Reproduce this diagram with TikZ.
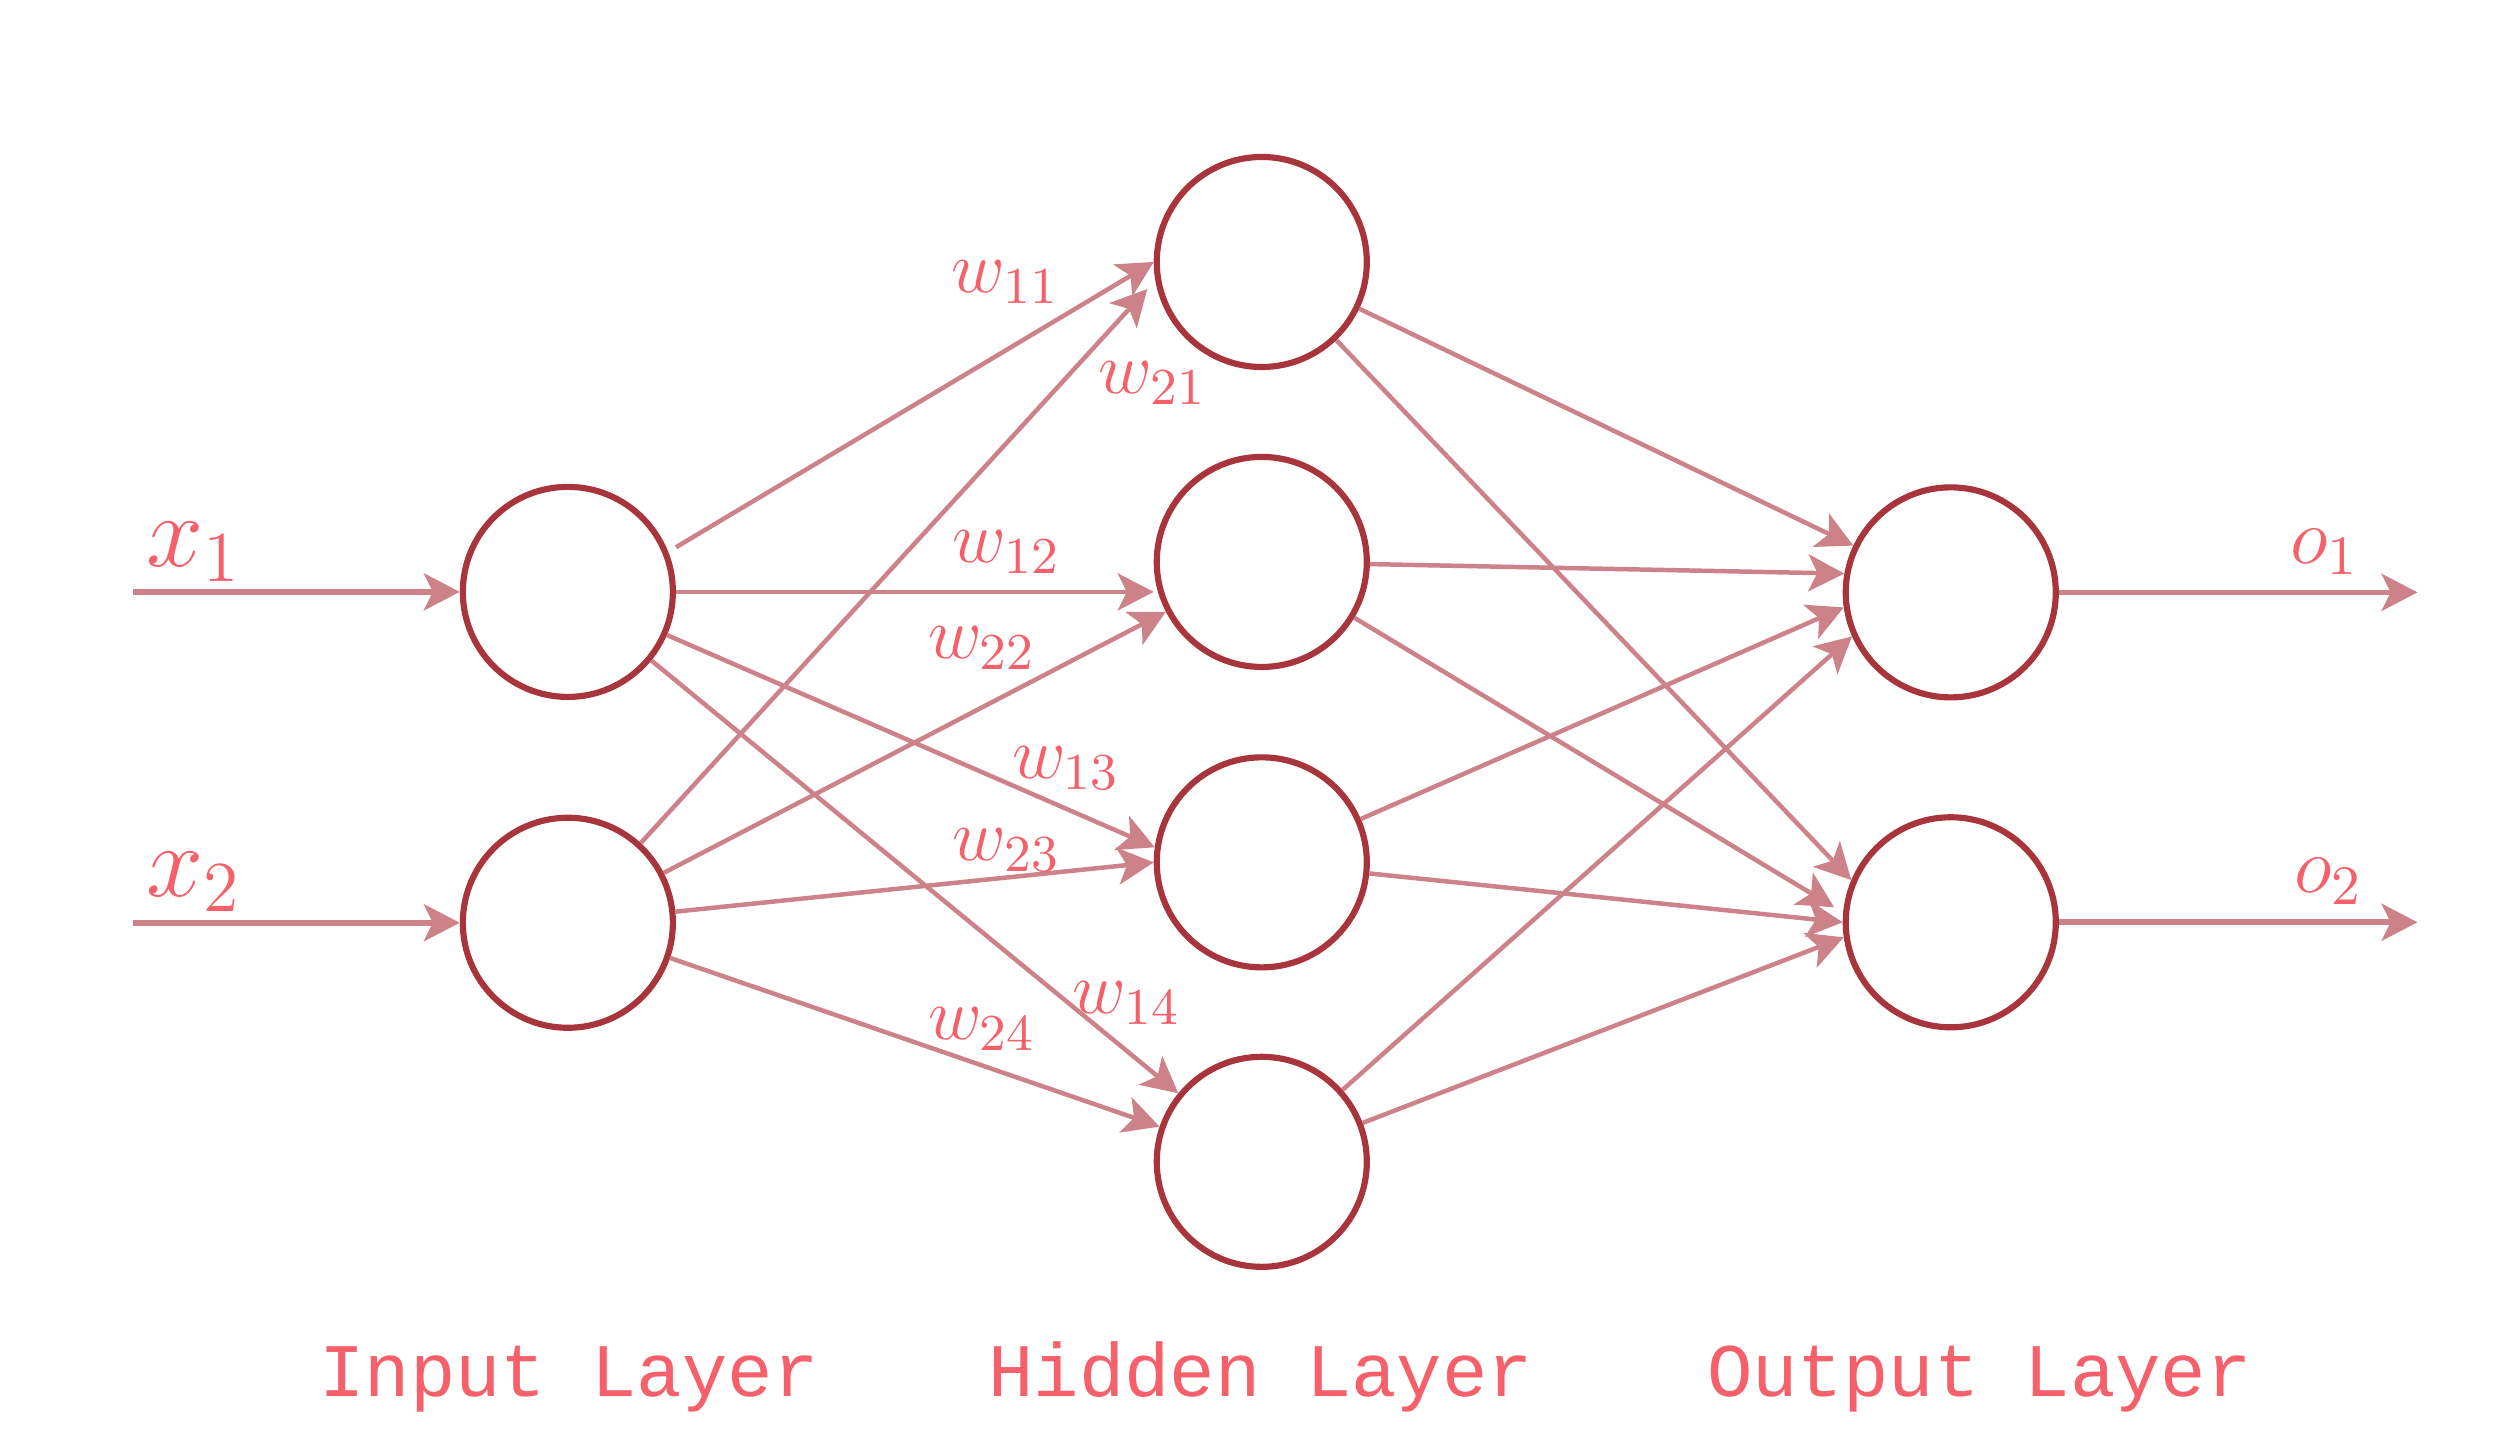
\RequirePackage{fix-cm}
\documentclass[tikz,border=0pt]{standalone}
\usepackage{amsmath}
\usepackage{fontspec}
\setmonofont{Liberation Mono}
\usetikzlibrary{arrows.meta, positioning}

\definecolor{neuronred}{RGB}{168,52,60}
\definecolor{edgepink}{RGB}{204,130,136}
\definecolor{labelred}{RGB}{245,96,106}

\tikzset{
  neuron/.style={circle, draw=neuronred, line width=1.1pt, fill=white,
    minimum size=1.318cm, inner sep=0pt},
  synapse/.style={-{Stealth[length=6.4pt, width=6.6pt, inset=1.6pt]},
    draw=edgepink, line width=0.8pt},
  signal/.style={synapse, line width=1pt},
  inlabel/.style={text=labelred, inner sep=0pt,
    font=\fontsize{18.3}{22}\selectfont},
  wlabel/.style={text=labelred, inner sep=0pt,
    font=\fontsize{13.2}{16}\selectfont},
  outlabel/.style={wlabel, font=\fontsize{14.2}{17}\selectfont},
  layername/.style={text=labelred, anchor=base,
    font=\ttfamily\fontsize{13.5}{16}\selectfont}
}

\begin{document}
\begin{tikzpicture}
  \fill[white] (0,0) rectangle (15.68,9.015);
  \useasboundingbox (0,0) rectangle (15.68,9.015);

  % Input layer
  \node[neuron] (i1) at (3.563,5.301) {};
  \node[neuron] (i2) at (3.563,3.225) {};

  % Hidden layer
  \node[neuron] (h1) at (7.917,7.371) {};
  \node[neuron] (h2) at (7.917,5.489) {};
  \node[neuron] (h3) at (7.917,3.604) {};
  \node[neuron] (h4) at (7.917,1.725) {};

  % Output layer
  \node[neuron] (o1) at (12.240,5.298) {};
  \node[neuron] (o2) at (12.240,3.228) {};

  % Inputs and outputs
  \coordinate[left=2.05cm of i1.west] (x1in);
  \coordinate[left=2.05cm of i2.west] (x2in);
  \coordinate[right=2.25cm of o1.east] (o1out);
  \coordinate[right=2.25cm of o2.east] (o2out);
  \draw[signal] (x1in) -- (i1);
  \draw[signal] (x2in) -- (i2);
  \draw[signal] (o1) -- (o1out);
  \draw[signal] (o2) -- (o2out);

  % Input -> hidden
  \draw[synapse] ([yshift=2.8mm]i1.east) -- (h1.west);
  \draw[synapse] (i1.east) -- (i1.east -| h2.west);
  \draw[synapse] (i1) -- (h3.172);
  \draw[synapse] (i1) -- (h4);
  \draw[synapse] (i2) -- ([xshift=-0.4mm, yshift=-1.7mm]h1.west);
  \draw[synapse] (i2) -- (h2);
  \draw[synapse] (i2) -- (h3.west);
  \draw[synapse] (i2) -- (h4);

  % Hidden -> output
  \draw[synapse] (h1) -- (o1);
  \draw[synapse] (h1) -- (o2.157);
  \draw[synapse] (h2) -- (o1.170);
  \draw[synapse] (h2) -- ([xshift=-0.6mm]o2.172);
  \draw[synapse] (h3) -- (o1.188);
  \draw[synapse] (h3) -- (o2.west);
  \draw[synapse] (h4) -- (o1.204);
  \draw[synapse] (h4) -- (o2.188);

  % Labels
  \node[inlabel] (lx1) at (1.217,5.552) {$x_1$};
  \node[inlabel] (lx2) at (1.217,3.482) {$x_2$};
  \node[outlabel] (lo1) at (14.586,5.552) {$o_1$};
  \node[outlabel] (lo2) at (14.611,3.482) {$o_2$};

  \node[wlabel] (lw11) at (6.311,7.246) {$w_{11}$};
  \node[wlabel] (lw21) at (7.233,6.612) {$w_{21}$};
  \node[wlabel] (lw12) at (6.317,5.552) {$w_{12}$};
  \node[wlabel] (lw22) at (6.161,4.950) {$w_{22}$};
  \node[wlabel] (lw13) at (6.688,4.197) {$w_{13}$};
  \node[wlabel] (lw23) at (6.317,3.683) {$w_{23}$};
  \node[wlabel] (lw14) at (7.070,2.723) {$w_{14}$};
  \node[wlabel] (lw24) at (6.161,2.560) {$w_{24}$};

  \node[layername] (linput) at (3.57,0.251) {Input Layer};
  \node[layername] (lhidden) at (7.91,0.251) {Hidden Layer};
  \node[layername] (loutput) at (12.42,0.251) {Output Layer};
\end{tikzpicture}
\end{document}
